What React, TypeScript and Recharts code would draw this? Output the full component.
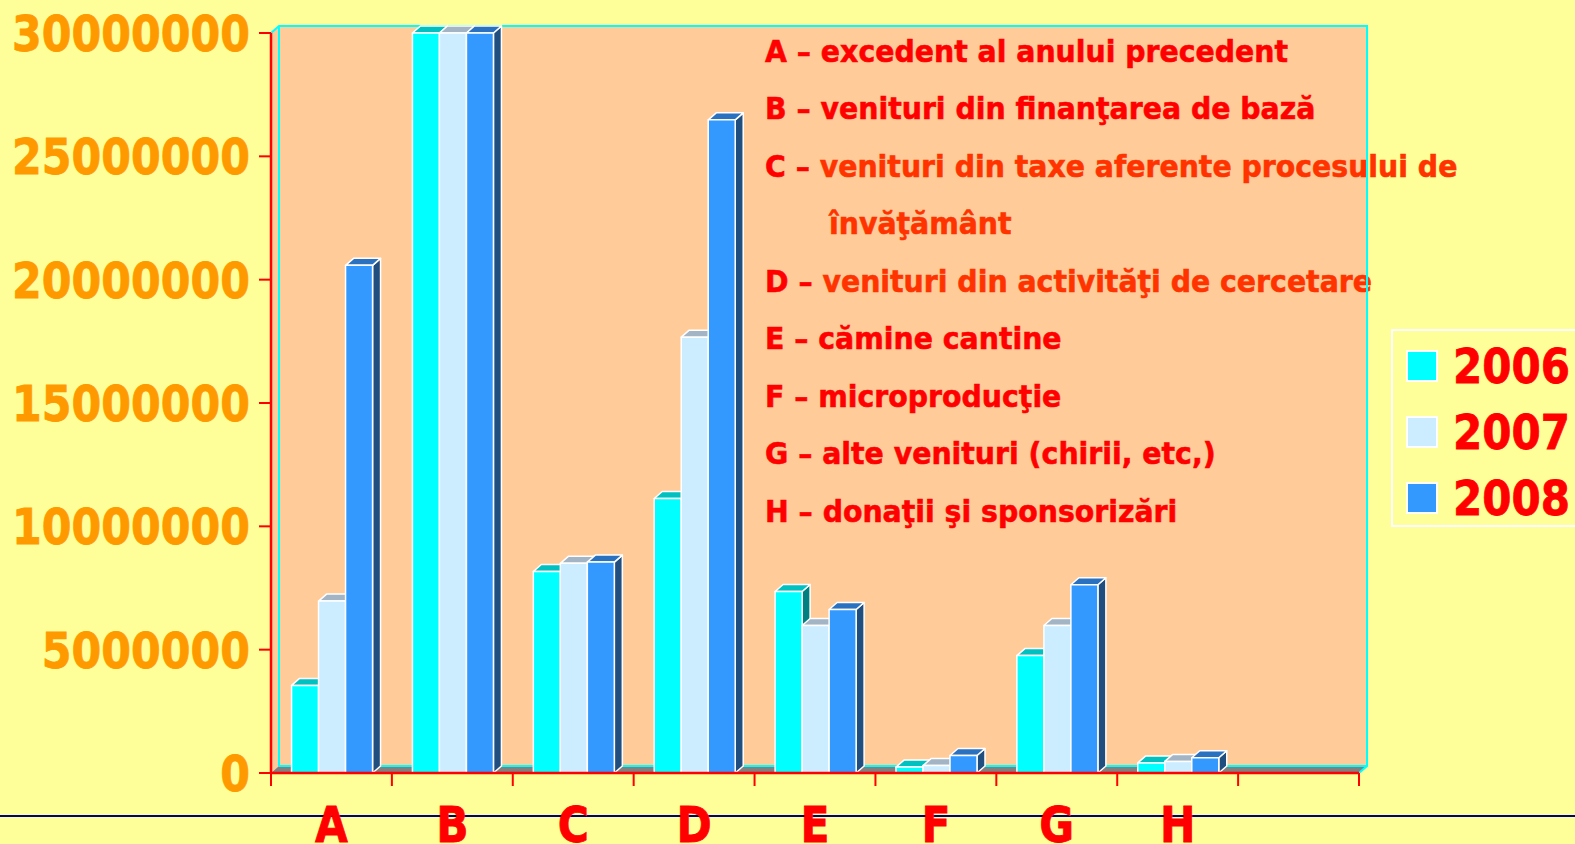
import React from 'react'
import * as R from 'recharts'
import { BarChart, Bar, XAxis, YAxis, CartesianGrid, Legend } from 'recharts'

const categories = ['A', 'B', 'C', 'D', 'E', 'F', 'G', 'H', '']
const values2006 = [3550000, 30000000, 8170000, 11130000, 7360000, 240000, 4760000, 410000, null]
const values2007 = [6970000, 30000000, 8500000, 17670000, 5980000, 300000, 5980000, 470000, null]
const values2008 = [20580000, 30000000, 8550000, 26480000, 6630000, 710000, 7630000, 620000, null]
const years = ['2006', '2007', '2008']
const yTicks = [0, 5000000, 10000000, 15000000, 20000000, 25000000, 30000000]

const noteLetters = ['A', 'B', 'C', '', 'D', 'E', 'F', 'G', 'H']
const noteTexts = [
  'excedent al anului precedent',
  'venituri din finanţarea de bază',
  'venituri din taxe aferente procesului de',
  'învăţământ',
  'venituri din activităţi de cercetare',
  'cămine cantine',
  'microproducţie',
  'alte venituri (chirii, etc,)',
  'donaţii şi sponsorizări',
]
const noteColors = ['#FF0000', '#FF0000', '#FF3300', '#FF3300', '#FF3300', '#FF0000', '#FF0000', '#FF0000', '#FF0000']

const data = categories.map((c, i) => ({
  cat: c,
  y2006: values2006[i],
  y2007: values2007[i],
  y2008: values2008[i],
}))

const FONT = '"DejaVu Sans", Verdana, sans-serif'
const DX = 8
const DY = 7
const SQ = 0.855
const PEACH = '#FFCC99'
const CYAN = '#00FFFF'

const palette = [
  { front: '#00FFFF', top: '#00C0C0', side: '#008080' },
  { front: '#CCECFF', top: '#A3B5C4', side: '#8FA3B3' },
  { front: '#3399FF', top: '#2A72C0', side: '#1F4E7F' },
]

const FALLBACK = { x: 271, y: 33, width: 1088, height: 740 }

function usePlot() {
  const hook = (R as any).usePlotArea
  const area = hook ? hook() : null
  return area && area.width ? area : FALLBACK
}

function Walls() {
  const { x, y, width, height } = usePlot()
  const b = y + height
  return (
    <g>
      <polygon points={`${x},${y} ${x + DX},${y - DY} ${x + DX},${b - DY} ${x},${b}`} fill={PEACH} />
      <rect x={x + DX} y={y - DY} width={width} height={height} fill={PEACH} />
      <polygon points={`${x},${b} ${x + DX},${b - DY} ${x + width + DX},${b - DY} ${x + width},${b}`} fill="#808080" />
      {noteTexts.map((t, i) => (
        <text
          key={i}
          transform={`translate(${noteLetters[i] ? 765 : 829},${61.7 + i * 57.5}) scale(0.93,1)`}
          fontFamily={FONT}
          fontWeight="bold"
          fontSize={30.5}
          strokeWidth={0.6}
        >
          {noteLetters[i] ? <tspan fill="#FF0000" stroke="#FF0000">{noteLetters[i]} – </tspan> : null}
          <tspan fill={noteColors[i]} stroke={noteColors[i]}>{t}</tspan>
        </text>
      ))}
    </g>
  )
}

function WallEdges() {
  const { x, y, width, height } = usePlot()
  const b = y + height
  return (
    <g fill="none" stroke={CYAN} strokeWidth={2}>
      <polyline points={`${x},${y} ${x + DX},${y - DY} ${x + width + DX},${y - DY} ${x + width + DX},${b - DY} ${x + width},${b}`} />
      <line x1={x + DX} y1={y - DY} x2={x + DX} y2={b - DY} />
      <line x1={x + DX} y1={b - DY} x2={x + width + DX} y2={b - DY} />
    </g>
  )
}

function gridLine(p: any) {
  const { x1, y1, x2 } = p
  return (
    <g key={p.key}>
      <line x1={x1} y1={y1} x2={x1 + DX} y2={y1 - DY} stroke="#FFFFFF" strokeWidth={2} />
      <line x1={x1 + DX} y1={y1 - DY} x2={x2 + DX} y2={y1 - DY} stroke="#FFFFFF" strokeWidth={2} />
    </g>
  )
}

function makePrism(colors: { front: string; top: string; side: string }) {
  return (p: any) => {
    const { x, y, width: w, height: h } = p
    if (h == null || h <= 0 || w == null) return <g />
    return (
      <g stroke="#FFFFFF" strokeWidth={1.5} strokeLinejoin="round">
        <polygon points={`${x + w},${y} ${x + w + DX},${y - DY} ${x + w + DX},${y + h - DY} ${x + w},${y + h}`} fill={colors.side} />
        <polygon points={`${x},${y} ${x + DX},${y - DY} ${x + w + DX},${y - DY} ${x + w},${y}`} fill={colors.top} />
        <rect x={x} y={y} width={w} height={h} fill={colors.front} />
      </g>
    )
  }
}

function YTick(p: any) {
  const { x, y, payload } = p
  return (
    <text
      transform={`translate(${x},${y + 18}) scale(${SQ},1)`}
      textAnchor="end"
      fontFamily={FONT}
      fontWeight="bold"
      fontSize={50}
      fill="#FF9900"
      stroke="#FF9900"
      strokeWidth={0.8}
    >
      {payload.value}
    </text>
  )
}

function XTick(p: any) {
  const { x, y, payload, index } = p
  const half = payload.offset || 60.45
  const last = index === categories.length - 1
  return (
    <g>
      <line x1={x - half} y1={y} x2={x - half} y2={y + 13} stroke="#FF0000" strokeWidth={2} />
      {last ? <line x1={x + half} y1={y} x2={x + half} y2={y + 13} stroke="#FF0000" strokeWidth={2} /> : null}
      <text
        transform={`translate(${x},${y + 69}) scale(0.85,1)`}
        textAnchor="middle"
        fontFamily={FONT}
        fontWeight="bold"
        fontSize={50}
        fill="#FF0000"
        stroke="#FF0000"
        strokeWidth={0.8}
      >
        {payload.value}
      </text>
    </g>
  )
}

function LegendBox() {
  return (
    <svg width={200} height={198} style={{ display: 'block' }}>
      <rect x={1} y={1} width={210} height={196} fill="none" stroke="#FFFFFF" strokeWidth={2} />
      {years.map((yr, i) => (
        <g key={yr}>
          <rect x={16} y={22 + i * 66} width={30} height={30} fill={palette[i].front} stroke="#FFFFFF" strokeWidth={2} />
          <text
            transform={`translate(62,${54.3 + i * 66}) scale(0.876,1)`}
            fontFamily={FONT}
            fontWeight="bold"
            fontSize={48}
            fill="#FF0000"
            stroke="#FF0000"
            strokeWidth={0.8}
          >
            {yr}
          </text>
        </g>
      ))}
    </svg>
  )
}

export default function App() {
  return (
    <div
      style={{
        position: 'absolute',
        left: 0,
        top: 0,
        width: 1575,
        height: 844,
        background: '#FFFF99',
        overflow: 'hidden',
      }}
    >
      <div style={{ position: 'absolute', left: 0, top: 815, width: 1575, height: 1.5, background: '#000080' }} />
      <BarChart
        width={1575}
        height={844}
        data={data}
        margin={{ top: 33, right: 216, bottom: 0, left: 0 }}
        barCategoryGap="17%"
        barGap={0}
        style={{ position: 'absolute', left: 0, top: 0 }}
      >
        <Walls />
        <CartesianGrid vertical={false} horizontal={gridLine} stroke="#FFFFFF" />
        <WallEdges />
        <YAxis
          width={271}
          domain={[0, 30000000]}
          ticks={yTicks}
          interval={0}
          tickSize={12}
          tickMargin={9}
          axisLine={{ stroke: '#FF0000', strokeWidth: 2.5 }}
          tickLine={{ stroke: '#FF0000', strokeWidth: 2 }}
          tick={<YTick />}
        />
        <XAxis
          dataKey="cat"
          height={71}
          interval={0}
          tickSize={0}
          tickMargin={0}
          axisLine={{ stroke: '#FF0000', strokeWidth: 2.5 }}
          tickLine={false}
          tick={<XTick />}
        />
        <Legend
          layout="horizontal"
          verticalAlign="middle"
          align="center"
          content={() => <LegendBox />}
          wrapperStyle={{ left: 1391, top: 329, width: 200, height: 198 }}
        />
        <Bar dataKey="y2006" name="2006" fill={palette[0].front} shape={makePrism(palette[0])} isAnimationActive={false} />
        <Bar dataKey="y2007" name="2007" fill={palette[1].front} shape={makePrism(palette[1])} isAnimationActive={false} />
        <Bar dataKey="y2008" name="2008" fill={palette[2].front} shape={makePrism(palette[2])} isAnimationActive={false} />
      </BarChart>
    </div>
  )
}
